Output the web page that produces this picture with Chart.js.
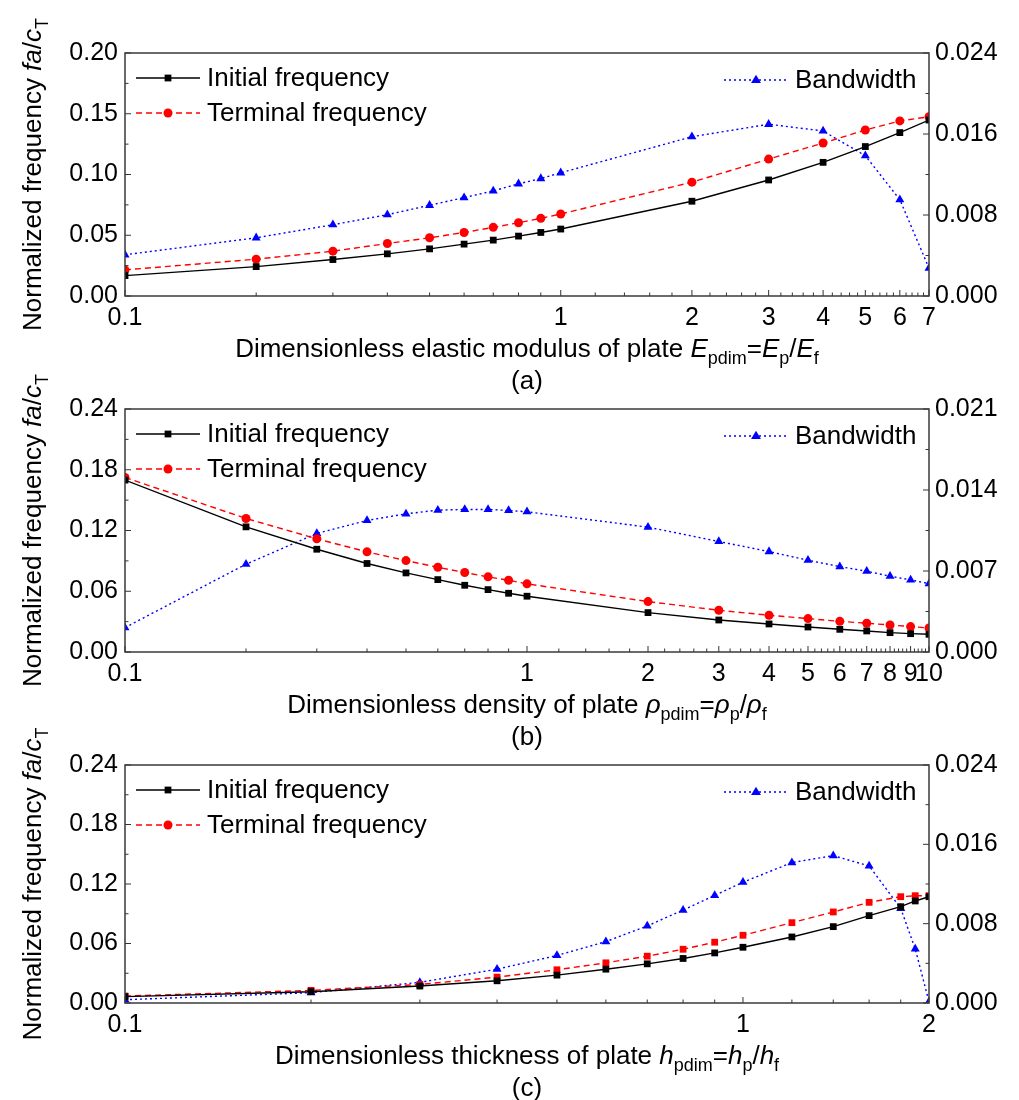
<!DOCTYPE html>
<html>
<head>
<meta charset="utf-8">
<script src="https://cdn.jsdelivr.net/npm/chart.js@4.4.1/dist/chart.umd.min.js"></script>
<style>
  html, body { margin: 0; padding: 0; background: #fff; overflow: hidden; }
  #wrap { position: relative; width: 1019px; height: 1100px; }
  canvas { position: absolute; left: 0; }
</style>
</head>
<body>
<div id="wrap">
  <canvas id="chartA" width="1019" height="400" style="top:0px"></canvas>
  <canvas id="chartB" width="1019" height="400" style="top:356px"></canvas>
  <canvas id="chartC" width="1019" height="400" style="top:700px"></canvas>
</div>
<script>
// (a) elastic modulus
const xModulus = [0.1, 0.2, 0.3, 0.4, 0.5, 0.6, 0.7, 0.8, 0.9, 1, 2, 3, 4, 5, 6, 7];
const initModulus = [0.0168, 0.0242, 0.0300, 0.0347, 0.0388, 0.0427, 0.0460, 0.0493, 0.0523, 0.0551, 0.0780, 0.0955, 0.1100, 0.1230, 0.1345, 0.1448];
const termModulus = [0.0215, 0.0303, 0.0369, 0.0432, 0.0479, 0.0523, 0.0565, 0.0603, 0.0639, 0.0675, 0.0937, 0.1127, 0.1259, 0.1366, 0.1441, 0.1475];
const bandModulus = [0.00407, 0.00575, 0.00704, 0.00803, 0.00896, 0.00972, 0.01038, 0.01108, 0.0116, 0.01217, 0.01573, 0.01696, 0.0163, 0.01385, 0.00952, 0.00275];

// (b) density
const xDensity = [0.1, 0.2, 0.3, 0.4, 0.5, 0.6, 0.7, 0.8, 0.9, 1, 2, 3, 4, 5, 6, 7, 8, 9, 10];
const initDensity = [0.1698, 0.1236, 0.1015, 0.0874, 0.0781, 0.0715, 0.0659, 0.0616, 0.0580, 0.0551, 0.0389, 0.0316, 0.0277, 0.0247, 0.0224, 0.0208, 0.0191, 0.0181, 0.0175];
const termDensity = [0.1724, 0.1319, 0.1118, 0.0989, 0.0903, 0.0837, 0.0785, 0.0742, 0.0709, 0.0673, 0.0498, 0.0412, 0.0363, 0.0330, 0.0303, 0.0284, 0.0267, 0.0251, 0.0237];
const bandDensity = [0.00211, 0.00759, 0.01024, 0.01137, 0.01194, 0.01226, 0.01232, 0.01232, 0.01223, 0.01212, 0.01079, 0.00955, 0.00868, 0.00793, 0.00738, 0.00698, 0.00655, 0.00623, 0.00591];

// (c) thickness
const xThickness = [0.1, 0.2, 0.3, 0.4, 0.5, 0.6, 0.7, 0.8, 0.9, 1, 1.2, 1.4, 1.6, 1.8, 1.9, 2];
const initThickness = [0.0064, 0.0114, 0.0171, 0.0224, 0.0281, 0.0341, 0.0395, 0.0449, 0.0505, 0.0562, 0.0666, 0.0770, 0.0881, 0.0971, 0.1029, 0.1072];
const termThickness = [0.0070, 0.0127, 0.0187, 0.0261, 0.0335, 0.0405, 0.0472, 0.0542, 0.0613, 0.0683, 0.0810, 0.0918, 0.1015, 0.1072, 0.1082, 0.1082];
const bandThickness = [0.00033, 0.00104, 0.00208, 0.00341, 0.00479, 0.00619, 0.00777, 0.00937, 0.01085, 0.01218, 0.01416, 0.01486, 0.01382, 0.00955, 0.00545, 0.00013];

// tick labels
const xTicksA = [0.1, 1, 2, 3, 4, 5, 6, 7];
const xTicksB = [0.1, 1, 2, 3, 4, 5, 6, 7, 8, 9, 10];
const xTicksC = [0.1, 1, 2];
const leftTicksA = [0, 0.05, 0.10, 0.15, 0.20];
const leftTicksBC = [0, 0.06, 0.12, 0.18, 0.24];
const rightTicksA = [0, 0.008, 0.016, 0.024];
const rightTicksB = [0, 0.007, 0.014, 0.021];
const rightTicksC = [0, 0.008, 0.016, 0.024];

const seriesNames = ['Initial frequency', 'Terminal frequency', 'Bandwidth'];

const FONT = '"Liberation Sans", Arial, sans-serif';
const TXT = 26;
const TICK = 25;

function fontFor(p, size) {
    const s = p.sub ? Math.round(size * 0.68) : size;
    return (p.it ? 'italic ' : '') + s + 'px ' + FONT;
}

function drawRich(ctx, parts, x, y, size) {
    let w = 0;
    parts.forEach(p => { ctx.font = fontFor(p, size); w += ctx.measureText(p.t).width; });
    let cx = x - w / 2;
    ctx.textAlign = 'left';
    ctx.textBaseline = 'alphabetic';
    parts.forEach(p => {
        ctx.font = fontFor(p, size);
        ctx.fillText(p.t, cx, y + (p.sub ? size * 0.28 : 0));
        cx += ctx.measureText(p.t).width;
    });
}

function drawMarker(ctx, style, x, y, r) {
    ctx.beginPath();
    if (style === 'rect') {
        const s = r * Math.SQRT1_2;
        ctx.rect(x - s, y - s, 2 * s, 2 * s);
    } else if (style === 'triangle') {
        ctx.moveTo(x, y - r);
        ctx.lineTo(x + r * 0.95, y + r * 0.6);
        ctx.lineTo(x - r * 0.95, y + r * 0.6);
        ctx.closePath();
    } else {
        ctx.arc(x, y, r, 0, Math.PI * 2);
    }
    ctx.fill();
}

function minorLog(min, max) {
    const out = [];
    for (let d = 0.1; d < max; d *= 10) {
        const step = d >= 1 ? d * 0.2 : d;
        for (let v = d + step; v < d * 10 - 1e-9; v += step) {
            const r = Math.round(v * 1000) / 1000;
            if (r > min && r < max) out.push(r);
        }
    }
    return out;
}

// frame, inward ticks, axis titles, legend inside plot
const decorPlugin = {
    id: 'decor',
    afterDraw(chart) {
        const o = chart.options.plugins.decor;
        const ctx = chart.ctx;
        const a = chart.chartArea;
        const x = chart.scales.x, y = chart.scales.y, y1 = chart.scales.y1;
        ctx.save();
        ctx.strokeStyle = '#333';
        ctx.lineWidth = 1;
        ctx.beginPath();
        const tick = (x0, y0, x1, y1_) => { ctx.moveTo(x0, y0); ctx.lineTo(x1, y1_); };
        o.xMajor.forEach(v => { const px = x.getPixelForValue(v); tick(px, a.bottom, px, a.bottom - 6); });
        minorLog(x.min, x.max).forEach(v => {
            if (o.xMajor.includes(v)) return;
            const px = x.getPixelForValue(v); tick(px, a.bottom, px, a.bottom - 3.5);
        });
        const lt = o.leftTicks, rt = o.rightTicks;
        lt.forEach((v, i) => {
            const py = y.getPixelForValue(v); tick(a.left, py, a.left + 6, py);
            if (i < lt.length - 1) { const pm = y.getPixelForValue((v + lt[i + 1]) / 2); tick(a.left, pm, a.left + 3.5, pm); }
        });
        rt.forEach((v, i) => {
            const py = y1.getPixelForValue(v); tick(a.right, py, a.right - 6, py);
            if (i < rt.length - 1) { const pm = y1.getPixelForValue((v + rt[i + 1]) / 2); tick(a.right, pm, a.right - 3.5, pm); }
        });
        ctx.stroke();
        ctx.lineWidth = 1.5;
        ctx.strokeStyle = '#3a3a3a';
        ctx.strokeRect(a.left, a.top, a.right - a.left, a.bottom - a.top);

        // titles
        ctx.fillStyle = '#000';
        const cx = (a.left + a.right) / 2;
        drawRich(ctx, o.xTitle, cx, a.bottom + 61, TXT);
        ctx.font = TXT + 'px ' + FONT;
        ctx.textAlign = 'center';
        ctx.textBaseline = 'alphabetic';
        ctx.fillText(o.caption, cx, a.bottom + 93);
        ctx.save();
        ctx.translate(41, (a.top + a.bottom) / 2);
        ctx.rotate(-Math.PI / 2);
        drawRich(ctx, [
            { t: 'Normalized frequency ' }, { t: 'fa', it: true }, { t: '/' },
            { t: 'c', it: true }, { t: 'T', sub: true }
        ], 0, 0, TXT);
        ctx.restore();

        // legend
        const ds = chart.data.datasets;
        const entry = (d, lx, ly) => {
            ctx.save();
            ctx.strokeStyle = d.borderColor;
            ctx.lineWidth = d.borderWidth;
            ctx.setLineDash(d.borderDash || []);
            ctx.beginPath();
            ctx.moveTo(lx, ly); ctx.lineTo(lx + 64, ly);
            ctx.stroke();
            ctx.fillStyle = d.pointBackgroundColor;
            drawMarker(ctx, d.legendStyle || d.pointStyle, lx + 32, ly, d.legendStyle ? 4.5 : d.pointRadius);
            ctx.restore();
            ctx.fillStyle = '#000';
            ctx.font = TXT + 'px ' + FONT;
            ctx.textAlign = 'left';
            ctx.textBaseline = 'middle';
            ctx.fillText(d.label, lx + 71, ly + 1);
        };
        entry(ds[0], a.left + 11, a.top + 25);
        entry(ds[1], a.left + 11, a.top + 60);
        entry(ds[2], a.right - 205, a.top + 27);
        ctx.restore();
    }
};

function pts(xs, ys) {
    return xs.map((v, i) => ({ x: v, y: ys[i] }));
}

function makeChart(id, cfg) {
    const canvas = document.getElementById(id);
    const H = canvas.height;
    return new Chart(canvas.getContext('2d'), {
        type: 'line',
        data: {
            datasets: [
                {
                    label: seriesNames[0], data: pts(cfg.xs, cfg.init), yAxisID: 'y',
                    borderColor: '#000', backgroundColor: '#000', pointBackgroundColor: '#000',
                    borderWidth: 1.4, pointStyle: 'rect', pointRadius: 4.8, pointBorderWidth: 0
                },
                {
                    label: seriesNames[1], data: pts(cfg.xs, cfg.term), yAxisID: 'y',
                    borderColor: '#ff0000', backgroundColor: '#ff0000', pointBackgroundColor: '#ff0000',
                    borderWidth: 1.4, borderDash: [6, 4], pointStyle: cfg.termStyle, legendStyle: 'circle',
                    pointRadius: cfg.termStyle === 'rect' ? 4.8 : 4.5, pointBorderWidth: 0
                },
                {
                    label: seriesNames[2], data: pts(cfg.xs, cfg.band), yAxisID: 'y1',
                    borderColor: '#0000ff', backgroundColor: '#0000ff', pointBackgroundColor: '#0000ff',
                    borderWidth: 1.4, borderDash: [2, 3], pointStyle: 'triangle', pointRadius: 5.2, pointBorderWidth: 0
                }
            ]
        },
        options: {
            responsive: false,
            animation: false,
            devicePixelRatio: 1,
            layout: { padding: { top: cfg.padTop, left: 0, right: 0, bottom: 0 } },
            elements: { line: { tension: 0 } },
            scales: {
                x: {
                    type: 'logarithmic', min: cfg.xs[0], max: cfg.xs[cfg.xs.length - 1],
                    grid: { display: false, drawTicks: false }, border: { display: false },
                    afterBuildTicks: s => { s.ticks = cfg.xTicks.map(v => ({ value: v })); },
                    afterFit: s => { s.height = H - cfg.padTop - cfg.plotH; },
                    ticks: {
                        autoSkip: false, maxRotation: 0, minRotation: 0, padding: 7, color: '#000',
                        font: { family: FONT, size: TICK }, callback: v => String(v)
                    }
                },
                y: {
                    position: 'left', min: cfg.leftTicks[0], max: cfg.leftTicks[cfg.leftTicks.length - 1],
                    grid: { display: false, drawTicks: false }, border: { display: false },
                    afterBuildTicks: s => { s.ticks = cfg.leftTicks.map(v => ({ value: v })); },
                    afterFit: s => { s.width = 125; },
                    ticks: { padding: 7, color: '#000', font: { family: FONT, size: TICK }, callback: v => v.toFixed(2) }
                },
                y1: {
                    position: 'right', min: cfg.rightTicks[0], max: cfg.rightTicks[cfg.rightTicks.length - 1],
                    grid: { display: false, drawTicks: false }, border: { display: false },
                    afterBuildTicks: s => { s.ticks = cfg.rightTicks.map(v => ({ value: v })); },
                    afterFit: s => { s.width = 1019 - 929; },
                    ticks: { padding: 6, color: '#000', font: { family: FONT, size: TICK }, callback: v => v.toFixed(3) }
                }
            },
            plugins: {
                legend: { display: false },
                tooltip: { enabled: false },
                decor: {
                    xMajor: cfg.xTicks, leftTicks: cfg.leftTicks, rightTicks: cfg.rightTicks,
                    xTitle: cfg.xTitle, caption: cfg.caption
                }
            }
        },
        plugins: [decorPlugin]
    });
}

const subTitle = (head, sym) => [
    { t: head }, { t: sym, it: true }, { t: 'pdim', sub: true }, { t: '=' },
    { t: sym, it: true }, { t: 'p', sub: true }, { t: '/' }, { t: sym, it: true }, { t: 'f', sub: true }
];

makeChart('chartA', {
    xs: xModulus, init: initModulus, term: termModulus, band: bandModulus,
    xTicks: xTicksA, leftTicks: leftTicksA, rightTicks: rightTicksA, termStyle: 'circle',
    padTop: 53, plotH: 243,
    xTitle: subTitle('Dimensionless elastic modulus of plate ', 'E'), caption: '(a)'
});
makeChart('chartB', {
    xs: xDensity, init: initDensity, term: termDensity, band: bandDensity,
    xTicks: xTicksB, leftTicks: leftTicksBC, rightTicks: rightTicksB, termStyle: 'circle',
    padTop: 53, plotH: 243,
    xTitle: subTitle('Dimensionless density of plate ', 'ρ'), caption: '(b)'
});
makeChart('chartC', {
    xs: xThickness, init: initThickness, term: termThickness, band: bandThickness,
    xTicks: xTicksC, leftTicks: leftTicksBC, rightTicks: rightTicksC, termStyle: 'rect',
    padTop: 65, plotH: 238,
    xTitle: subTitle('Dimensionless thickness of plate ', 'h'), caption: '(c)'
});
</script>
</body>
</html>
